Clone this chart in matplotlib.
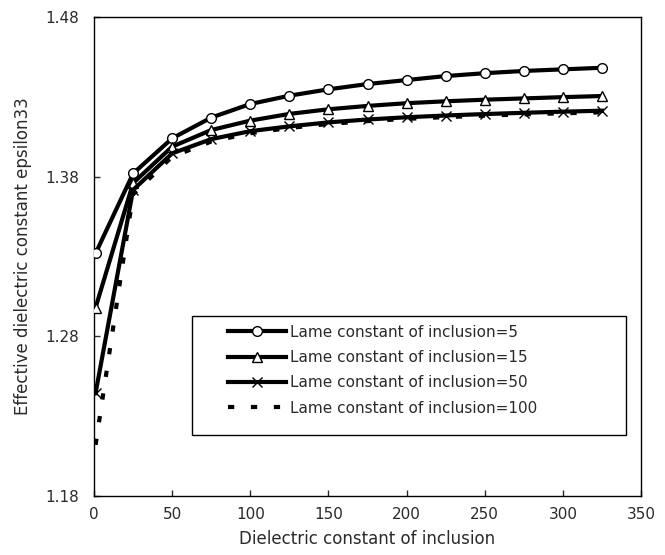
import matplotlib
matplotlib.use("Agg")
import matplotlib.pyplot as plt
from matplotlib.patches import Rectangle

# ---- data ----
x_vals = [1, 25, 50, 75, 100, 125, 150, 175, 200, 225, 250, 275, 300, 325]
lame_5 = [1.332, 1.382, 1.404, 1.417, 1.4255, 1.4307, 1.4347, 1.438, 1.4405,
          1.443, 1.4448, 1.4462, 1.4472, 1.4482]
lame_15 = [1.298, 1.376, 1.3988, 1.4092, 1.4151, 1.4193, 1.4222, 1.4243, 1.426,
           1.4272, 1.4282, 1.429, 1.4298, 1.4305]
lame_50 = [1.2445, 1.3717, 1.3946, 1.4035, 1.4085, 1.4115, 1.414, 1.4158, 1.4172,
           1.4183, 1.4192, 1.42, 1.4207, 1.4213]
lame_100 = [1.212, 1.369, 1.3925, 1.402, 1.4072, 1.4105, 1.413, 1.4148, 1.4162,
            1.4173, 1.4182, 1.419, 1.4197, 1.4203]
labels = ["Lame constant of inclusion=5", "Lame constant of inclusion=15",
          "Lame constant of inclusion=50", "Lame constant of inclusion=100"]
x_ticks = [0, 50, 100, 150, 200, 250, 300, 350]
y_ticks = [1.18, 1.28, 1.38, 1.48]

plt.rcParams['font.family'] = ['DejaVu Sans']
plt.rcParams['font.size'] = 11

fig = plt.figure(figsize=(6.65, 5.55), dpi=100)
ax = fig.add_axes([0.1414, 0.1063, 0.8225, 0.8631])

lw = 3
ax.plot(x_vals, lame_5, color='black', lw=lw, marker='o', ms=7,
        mfc='white', mec='black', mew=1, label=labels[0], zorder=3)
ax.plot(x_vals, lame_15, color='black', lw=lw, marker='^', ms=7.5,
        mfc='white', mec='black', mew=1, label=labels[1], zorder=3)
ax.plot(x_vals, lame_50, color='black', lw=lw, marker='x', ms=6.5,
        mec='black', mew=1, label=labels[2], zorder=3)
ax.plot(x_vals, lame_100, color='black', lw=lw, linestyle=(0, (1.5, 4)),
        label=labels[3], zorder=3)

ax.set_xlim(0, 350)
ax.set_ylim(1.18, 1.48)
ax.set_xticks(x_ticks)
ax.set_yticks(y_ticks)
ax.set_yticklabels([f"{v:.2f}" for v in y_ticks])
ax.tick_params(axis='x', direction='in', length=4, width=1, pad=8,
               colors='#2a2a2a', top=False)
ax.tick_params(axis='y', direction='in', length=4, width=1, pad=11,
               colors='#2a2a2a', right=False)
for sp in ax.spines.values():
    sp.set_linewidth(1)
    sp.set_color('black')

ax.set_xlabel("Dielectric constant of inclusion", color='#2a2a2a',
              labelpad=6, fontsize=12)
ax.set_ylabel("Effective dielectric constant epsilon33", color='#2a2a2a',
              fontsize=12)
ax.yaxis.set_label_coords(-0.113, 0.5)

# legend box (drawn wider than its content, as in the reference)
rect = Rectangle((0.179, 0.1273), 0.7934, 0.2484, transform=ax.transAxes,
                 facecolor='white', edgecolor='black', lw=1, zorder=4)
ax.add_patch(rect)
leg = ax.legend(loc='upper left', bbox_to_anchor=(0.245, 0.358),
                frameon=False, borderpad=0, borderaxespad=0,
                handlelength=3.8, handletextpad=0.25, labelspacing=0.68,
                fontsize=11)
leg.set_zorder(5)
for t in leg.get_texts():
    t.set_color('#2a2a2a')

fig.savefig("out.png", dpi=100, facecolor='white')
